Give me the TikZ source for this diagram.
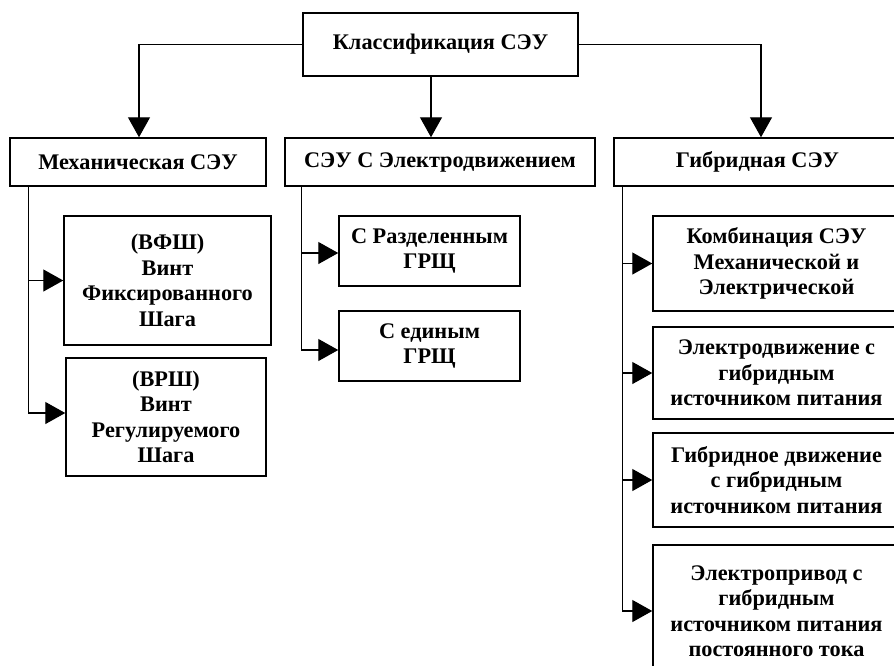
\documentclass[tikz,border=0pt]{standalone}
\usepackage{fontspec}
\setmainfont{Liberation Serif}
\usetikzlibrary{arrows.meta}
\begin{document}
\begin{tikzpicture}[x=1pt,y=-1pt,
  box/.style={draw,line width=1.5pt,rectangle,inner sep=0pt,align=center,
    font=\fontsize{22.3}{25.5}\selectfont\bfseries},
  conn/.style={line width=1.3pt},
  arr/.style={conn,-{Triangle[length=20pt,width=22pt]}}]
\clip (0,0) rectangle (894,665);
\fill[white] (0,0) rectangle (894,665);
% level 1
\node[box,minimum width=275pt,minimum height=63pt] (top) at (440.5,44.5) {Классификация СЭУ};
% level 2
\node[box,minimum width=256pt,minimum height=48pt] (mech) at (138,162) {Механическая СЭУ};
\node[box,minimum width=310pt,minimum height=48pt] (elec) at (440,162) {СЭУ С Электродвижением};
\node[box,minimum width=287pt,minimum height=48pt] (hyb) at (757.5,162) {Гибридная СЭУ};
% mechanical
\node[box,minimum width=207pt,minimum height=129pt] (vfsh) at (167.5,280.5) {(ВФШ)\\Винт\\Фиксированного\\Шага};
\node[box,minimum width=200pt,minimum height=118pt] (vrsh) at (166,417) {(ВРШ)\\Винт\\Регулируемого\\Шага};
% electric
\node[box,minimum width=181pt,minimum height=70pt] (razd) at (429.5,251) {С Разделенным\\ГРЩ};
\node[box,minimum width=181pt,minimum height=70pt] (edin) at (429.5,346) {С единым\\ГРЩ};
% hybrid
\node[box,minimum width=247pt,minimum height=95pt] (h1) at (776.5,263.5) {Комбинация СЭУ\\Механической и\\Электрической};
\node[box,minimum width=247pt,minimum height=92pt] (h2) at (776.5,373) {Электродвижение с\\гибридным\\источником питания};
\node[box,minimum width=247pt,minimum height=94pt] (h3) at (776.5,480) {Гибридное движение\\с гибридным\\источником питания};
\node[box,minimum width=247pt,minimum height=132pt] (h4) at (776.5,611) {Электропривод с\\гибридным\\источником питания\\постоянного тока};
% top connectors
\draw[arr] (top.west) -| ([xshift=1pt]mech.north);
\draw[arr] ([xshift=-9.5pt]top.south) -- ([xshift=-9.5pt]top.south |- elec.north);
\draw[arr] (top.east) -| ([xshift=3.5pt]hyb.north);
% trunks
\coordinate (mt) at ([xshift=19pt]mech.south west);
\coordinate (et) at ([xshift=17pt]elec.south west);
\coordinate (ht) at ([xshift=9pt]hyb.south west);
\draw[arr] (mt) |- (vfsh.west);
\draw[arr] (mt) |- ([yshift=4pt]vrsh.west);
\draw[arr] (et) |- ([yshift=-2pt]razd.west);
\draw[arr] (et) |- ([yshift=-4pt]edin.west);
\draw[arr] (ht) |- (h1.west);
\draw[arr] (ht) |- (h2.west);
\draw[arr] (ht) |- (h3.west);
\draw[arr] (ht) |- (h4.west);
\end{tikzpicture}
\end{document}
